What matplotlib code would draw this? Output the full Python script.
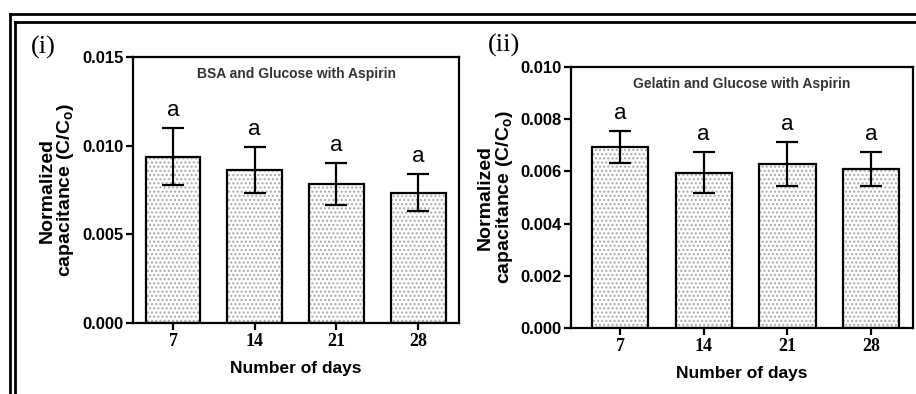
import numpy as np
import matplotlib
matplotlib.use("Agg")
import matplotlib.pyplot as plt
from matplotlib.lines import Line2D

# data
days = ["7", "14", "21", "28"]

bsa_mean = [0.00939, 0.00865, 0.00786, 0.00735]
bsa_err = [0.00163, 0.00130, 0.00119, 0.00105]

gel_mean = [0.00694, 0.00595, 0.00628, 0.00610]
gel_err = [0.00061, 0.00079, 0.00083, 0.00066]

sig_letters = ["a", "a", "a", "a"]

plt.rcParams['mathtext.fontset'] = 'custom'
plt.rcParams['mathtext.rm'] = 'Liberation Sans'
plt.rcParams['mathtext.bf'] = 'Liberation Sans:bold'
plt.rcParams['hatch.linewidth'] = 1.0
plt.rcParams['axes.linewidth'] = 1.6

SANS = "Liberation Sans"
SERIF = "Liberation Serif"

fig = plt.figure(figsize=(9.16, 3.94), dpi=100)


def panel(rect, means, errs, title, yticks, ylim, xlim, label, label_xy):
    ax = fig.add_axes(rect)
    x = np.arange(len(days))
    # dotted fill, then a black outline on top
    ax.bar(x, means, width=0.67, color="white", edgecolor="#a8a8a8",
           hatch="....", linewidth=0, zorder=2)
    ax.bar(x, means, width=0.67, color="none", edgecolor="black",
           linewidth=1.6, zorder=3)
    ax.errorbar(x, means, yerr=errs, fmt="none", ecolor="black",
                elinewidth=1.6, capsize=8, capthick=1.6, zorder=4)
    for xi, m, e, s in zip(x, means, errs, sig_letters):
        ax.annotate(s, (xi, m + e), xytext=(0, 5), textcoords="offset points",
                    ha="center", va="bottom", fontsize=16, family=SANS)
    ax.set_xlim(*xlim)
    ax.set_ylim(*ylim)
    ax.set_xticks(x)
    ax.set_xticklabels(days, family=SERIF, fontweight="bold", fontsize=13)
    ax.set_yticks(yticks)
    ax.set_yticklabels(["%.3f" % v for v in yticks], family=SANS,
                       fontweight="bold", fontsize=12)
    ax.tick_params(axis="both", direction="out", length=5, width=1.6, pad=2)
    ax.set_xlabel("Number of days", family=SANS, fontweight="bold",
                  fontsize=12.5, labelpad=8)
    ax.set_ylabel("Normalized\ncapacitance (C/$\\mathbf{C_o}$)", family=SANS,
                  fontweight="bold", fontsize=14, labelpad=4, linespacing=1.0)
    ax.text(0.5, 0.935, title, transform=ax.transAxes, ha="center",
            va="center", fontsize=10, fontweight="bold", family=SANS,
            color="#333333")
    fig.text(label_xy[0], label_xy[1], label, family=SERIF, fontsize=19,
             ha="center", va="center")
    return ax


panel([0.1452, 0.1802, 0.3559, 0.675], bsa_mean, bsa_err,
      "BSA and Glucose with Aspirin", [0.0, 0.005, 0.010, 0.015],
      (0, 0.015), (-0.49, 3.5), "(i)", (43 / 916, 1 - 47 / 394))
panel([0.6234, 0.1675, 0.3734, 0.6625], gel_mean, gel_err,
      "Gelatin and Glucose with Aspirin", [0.0, 0.002, 0.004, 0.006, 0.008, 0.010],
      (0, 0.010), (-0.585, 3.5), "(ii)", (504 / 916, 1 - 45 / 394))

# double frame around the figure
W, H = 916.0, 394.0
for (x0, y0), lw in [((10, 14), 2.0), ((15, 22), 2.0)]:
    fig.add_artist(Line2D([x0 / W, x0 / W], [0, 1 - y0 / H], color="black", lw=lw))
    fig.add_artist(Line2D([x0 / W, 1], [1 - y0 / H, 1 - y0 / H], color="black", lw=lw))

fig.savefig("out.png", dpi=100)
